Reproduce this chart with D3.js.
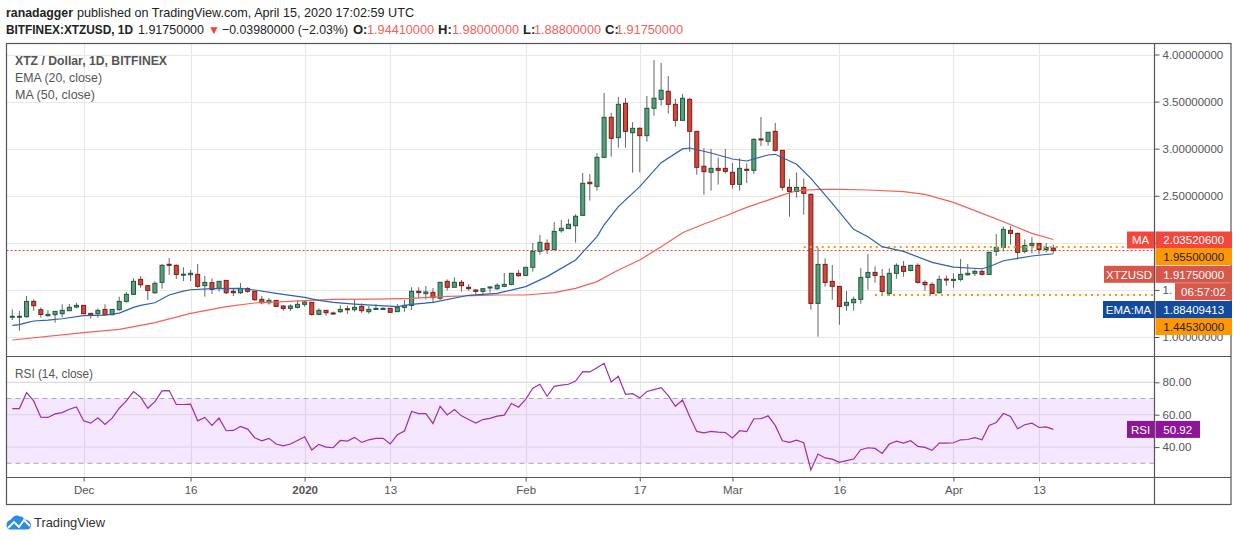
<!DOCTYPE html>
<html>
<head>
<meta charset="utf-8">
<title>XTZ / Dollar</title>
<script src="https://cdn.jsdelivr.net/npm/d3@7/dist/d3.min.js"></script>
<style>
  html, body { margin: 0; padding: 0; background: #fff; }
  svg { display: block; }
  text { font-family: "Liberation Sans", Arial, sans-serif; }
  .axis path, .axis line { stroke: #555; }
  .axis text { fill: #555; font-size: 11.5px; }
</style>
</head>
<body>
<div id="chart"></div>
<script>
// daily candles, 21 Nov 2019 -> 15 Apr 2020
const firstDay = new Date(Date.UTC(2019, 10, 21));

const opens = [1.21,1.21,1.216,1.378,1.29,1.226,1.237,1.247,1.279,1.318,
  1.336,1.251,1.247,1.293,1.237,1.29,1.378,1.453,1.612,1.545,
  1.47,1.58,1.772,1.761,1.66,1.662,1.665,1.545,1.577,1.516,
  1.601,1.485,1.47,1.516,1.485,1.4,1.364,1.389,1.329,1.304,
  1.315,1.347,1.368,1.24,1.283,1.255,1.269,1.3,1.29,1.325,
  1.269,1.293,1.293,1.304,1.269,1.315,1.336,1.485,1.46,1.474,
  1.411,1.591,1.528,1.581,1.528,1.499,1.485,1.524,1.513,1.538,
  1.559,1.676,1.655,1.74,1.91,1.995,1.928,2.129,2.151,2.182,
  2.292,2.643,2.6,2.908,3.333,3.117,3.482,3.17,3.216,3.138,
  3.429,3.524,3.609,3.471,3.301,3.524,3.184,2.813,2.749,2.791,
  2.791,2.749,2.621,2.781,2.77,3.103,3.078,3.184,2.982,2.589,
  2.546,2.589,2.515,1.357,1.771,1.591,1.538,1.336,1.364,1.4,
  1.633,1.686,1.644,1.463,1.676,1.75,1.707,1.761,1.58,1.559,
  1.47,1.615,1.601,1.612,1.661,1.676,1.697,1.665,1.909,1.952,
  2.132,2.1,1.909,1.973,1.994,1.93,1.9441];

const highs = [1.293,1.276,1.435,1.4,1.315,1.286,1.276,1.347,1.35,1.364,
  1.34,1.255,1.304,1.347,1.296,1.428,1.478,1.623,1.647,1.547,
  1.591,1.775,1.839,1.771,1.74,1.711,1.775,1.647,1.623,1.594,
  1.604,1.516,1.573,1.527,1.487,1.435,1.414,1.391,1.34,1.347,
  1.389,1.389,1.37,1.304,1.285,1.269,1.336,1.332,1.393,1.357,
  1.329,1.347,1.315,1.306,1.35,1.393,1.528,1.528,1.542,1.52,
  1.585,1.612,1.634,1.605,1.563,1.51,1.52,1.542,1.57,1.68,
  1.68,1.712,1.743,1.998,2.083,2.037,2.221,2.243,2.253,2.303,
  2.742,2.731,2.954,3.591,3.382,3.549,3.538,3.283,3.227,3.559,
  3.942,3.91,3.772,3.528,3.581,3.538,3.186,3.007,2.997,2.905,
  2.997,2.848,2.898,2.844,3.11,3.336,3.176,3.273,2.984,2.677,
  2.748,2.684,2.525,1.952,1.835,1.764,1.54,1.488,1.428,1.732,
  1.881,1.75,1.722,1.729,1.782,1.807,1.763,1.782,1.601,1.58,
  1.654,1.654,1.676,1.828,1.775,1.718,1.718,1.906,2.093,2.175,
  2.175,2.111,2.037,2.061,1.996,1.998,1.98];

const lows = [1.18,1.067,1.205,1.279,1.205,1.216,1.152,1.209,1.279,1.304,
  1.245,1.194,1.205,1.235,1.23,1.279,1.364,1.446,1.524,1.393,
  1.456,1.513,1.658,1.616,1.594,1.594,1.524,1.428,1.456,1.481,
  1.456,1.435,1.456,1.47,1.382,1.347,1.343,1.322,1.279,1.276,
  1.301,1.322,1.226,1.23,1.226,1.237,1.255,1.244,1.269,1.255,
  1.247,1.286,1.286,1.255,1.267,1.269,1.287,1.411,1.4,1.358,
  1.393,1.492,1.526,1.481,1.492,1.443,1.435,1.471,1.499,1.528,
  1.549,1.641,1.648,1.694,1.874,1.882,1.924,2.108,2.149,2.002,
  2.285,2.448,2.554,2.905,2.915,3.011,3.011,2.745,2.749,3.074,
  3.351,3.457,3.372,3.234,3.299,2.968,2.724,2.512,2.554,2.618,
  2.735,2.575,2.554,2.636,2.731,3.028,3.032,2.968,2.554,2.277,
  2.479,2.299,1.29,1.003,1.534,1.396,1.13,1.279,1.279,1.353,
  1.502,1.576,1.449,1.438,1.619,1.64,1.697,1.566,1.491,1.456,
  1.463,1.545,1.523,1.591,1.651,1.647,1.654,1.658,1.86,1.909,
  1.98,1.824,1.888,1.888,1.877,1.899,1.888];

const closes = [1.22,1.22,1.378,1.332,1.24,1.24,1.272,1.283,1.315,1.336,
  1.247,1.237,1.283,1.237,1.293,1.378,1.453,1.591,1.555,1.495,
  1.57,1.761,1.765,1.665,1.667,1.676,1.538,1.58,1.506,1.591,
  1.47,1.47,1.516,1.485,1.396,1.364,1.389,1.325,1.304,1.329,
  1.347,1.371,1.24,1.283,1.258,1.244,1.293,1.293,1.315,1.279,
  1.293,1.304,1.304,1.262,1.315,1.336,1.485,1.471,1.478,1.418,
  1.581,1.528,1.581,1.545,1.513,1.485,1.513,1.531,1.549,1.559,
  1.676,1.651,1.74,1.91,2.005,1.928,2.122,2.154,2.197,2.282,
  2.632,2.628,2.908,3.333,3.11,3.471,3.184,3.216,3.138,3.429,
  3.535,3.62,3.471,3.301,3.535,3.184,2.802,2.756,2.791,2.77,
  2.759,2.621,2.791,2.77,3.099,3.096,3.174,2.982,2.59,2.546,
  2.589,2.525,1.357,1.771,1.58,1.538,1.325,1.368,1.4,1.633,
  1.686,1.654,1.484,1.676,1.761,1.697,1.761,1.58,1.555,1.463,
  1.612,1.608,1.612,1.665,1.676,1.697,1.665,1.899,1.952,2.143,
  2.1,1.899,1.973,1.994,1.93,1.952,1.9175];

// EMA(20) at these candle numbers
const emaDays = [0,1,2,3,5,7,10,13,15,17,18,20,22,24,25,28,32,34,37,41,43,45,48,51,54,56,59,64,68,72,75,79,82,83,85,88,91,94,95,98,101,103,106,107,110,112,115,118,120,122,125,129,132,136,137,139,141,143,146];
const emaValues = [1.124,1.131,1.152,1.17,1.18,1.194,1.226,1.233,1.254,1.315,1.336,1.364,1.446,1.488,1.502,1.513,1.516,1.499,1.463,1.421,1.389,1.368,1.35,1.336,1.322,1.347,1.368,1.443,1.464,1.535,1.641,1.818,2.066,2.19,2.384,2.597,2.851,2.997,3.007,2.954,2.89,2.869,2.933,2.94,2.834,2.685,2.419,2.143,2.065,1.959,1.909,1.792,1.743,1.725,1.746,1.81,1.835,1.86,1.884];

// MA(50)
const maDays = [0,10,15,20,25,30,34,41,45,51,56,60,68,72,76,79,82,85,88,91,94,97,100,103,106,108,110,113,116,120,125,128,132,136,139,143,146];
const maValues = [0.968,1.046,1.081,1.152,1.251,1.322,1.361,1.386,1.4,1.403,1.41,1.428,1.446,1.446,1.471,1.517,1.588,1.712,1.818,1.959,2.108,2.2,2.285,2.377,2.454,2.507,2.553,2.568,2.568,2.561,2.543,2.515,2.43,2.313,2.224,2.1,2.0352];

const rsiValues = [63.8,63.8,73.6,68.5,58.5,58.3,60.5,61.3,63.4,64.8,
  56.2,54.8,58.1,54,57.9,64,68.5,74.3,70.8,64,
  68.1,74.7,74.9,66.3,66.3,66.5,56.2,58.3,53.4,57.9,
  50.1,50.3,52.7,51.1,45.8,43.9,45.4,41.9,40.8,41.9,
  44.1,46.4,38.2,41.7,40,39.6,44.1,43.7,46,42.9,
  44.5,45.4,45.4,41.9,47.6,49.9,62,60.7,60.7,54.6,
  65.2,59.9,63.2,59.3,57,54.8,57,57.7,59.1,59.7,
  66.9,64.6,69.5,76.3,78.8,71.4,77.5,78.2,78.8,80.8,
  86.6,86.4,89,91.7,80.2,83.7,72.6,73,70.4,74.3,
  75.5,76.7,71.8,65.2,69.1,58.9,49.7,48.8,49.7,49.3,
  49,45.6,50.1,49.5,57.5,57.5,59.3,53.4,43.9,42.9,
  44.3,42.7,25.9,35.7,33.3,32.6,30.6,31.6,32.6,38.4,
  39.6,39.2,36.1,41.9,43.7,42.5,43.9,40.4,39.8,38,
  42.5,42.5,42.7,44.5,44.7,45.8,44.5,53.4,55.2,60.7,
  58.9,51.3,53.8,54.8,52.1,52.5,50.92];

const priceTicks = [1, 1.5, 2, 2.5, 3, 3.5, 4];
// the tags on the right cover these two tick labels in the picture
const priceLabels = d => d === 2 ? "" : d === 1.5 ? "1." : d.toFixed(8);
const rsiTicks = [40, 60, 80];
const rsiBand = [30, 70];
const dateTicks = [[2019,11,1,"Dec"],[2019,11,16,"16"],[2020,0,1,"2020"],[2020,0,13,"13"],[2020,1,1,"Feb"],[2020,1,17,"17"],[2020,2,1,"Mar"],[2020,2,16,"16"],[2020,3,1,"Apr"],[2020,3,13,"13"]];

const lastClose = 1.9175;
const supportHigh = 1.955, supportLow = 1.4453;
const lastMa = 2.035206, lastEma = 1.88409413, lastRsi = 50.92;

const width = 1234, height = 541;
const left = 6.5, axisX = 1154.5, right = 1231;
const top1 = 43.5, paneBottom = 356.5, timeTop = 477.5, bottom = 504.5;

const svg = d3.select("#chart").append("svg").attr("width", width).attr("height", height);

const x = d3.scaleUtc()
  .domain([firstDay, d3.utcDay.offset(firstDay, 146)])
  .range([12.3, 1053.3]);
const y = d3.scaleLinear().domain([1, 4]).range([337, 54.5]);
const yRsi = d3.scaleLinear().domain([30, 80]).range([463.3, 382.3]);
const xDay = i => x(d3.utcDay.offset(firstDay, i));

const tickDates = dateTicks.map(d => new Date(Date.UTC(d[0], d[1], d[2])));
const grid = "#e8e8e8";

// grids
svg.append("g").selectAll("line").data(tickDates).join("line")
  .attr("x1", d => Math.round(x(d)) + .5).attr("x2", d => Math.round(x(d)) + .5)
  .attr("y1", top1).attr("y2", timeTop).attr("stroke", grid).attr("stroke-width", 1.2);
svg.append("g").selectAll("line").data(priceTicks).join("line")
  .attr("x1", left).attr("x2", axisX)
  .attr("y1", d => Math.round(y(d)) + .5).attr("y2", d => Math.round(y(d)) + .5)
  .attr("stroke", grid).attr("stroke-width", 1.2);

// rsi band + grid
svg.append("rect").attr("x", left).attr("width", axisX - left)
  .attr("y", yRsi(rsiBand[1])).attr("height", yRsi(rsiBand[0]) - yRsi(rsiBand[1]))
  .attr("fill", "#9915ff").attr("fill-opacity", 0.1);
svg.append("g").selectAll("line").data(rsiTicks).join("line")
  .attr("x1", left).attr("x2", axisX)
  .attr("y1", d => yRsi(d)).attr("y2", d => yRsi(d))
  .attr("stroke", "#e0d8e4").attr("stroke-width", 1.2);
svg.append("g").selectAll("line").data(rsiBand).join("line")
  .attr("x1", left).attr("x2", axisX)
  .attr("y1", d => yRsi(d)).attr("y2", d => yRsi(d))
  .attr("stroke", "#aaa").attr("stroke-dasharray", "5 4");

// last price line
svg.append("line").attr("x1", left).attr("x2", axisX)
  .attr("y1", y(lastClose)).attr("y2", y(lastClose))
  .attr("stroke", "#c8473a").attr("stroke-width", 1).attr("stroke-dasharray", "2 2");

const days = d3.range(opens.length);

// candles
const candles = svg.append("g");
candles.selectAll("line").data(days).join("line")
  .attr("x1", xDay).attr("x2", xDay)
  .attr("y1", i => y(highs[i])).attr("y2", i => y(lows[i]))
  .attr("stroke", "#666").attr("stroke-width", 1);
candles.selectAll("rect").data(days).join("rect")
  .attr("x", i => xDay(i) - 2)
  .attr("width", 4)
  .attr("y", i => y(Math.max(opens[i], closes[i])))
  .attr("height", i => Math.max(1, Math.abs(y(opens[i]) - y(closes[i]))))
  .attr("fill", i => closes[i] >= opens[i] ? "#5a9e7c" : "#d4463a")
  .attr("stroke", i => closes[i] >= opens[i] ? "#1c5a3c" : "#7c1c14")
  .attr("stroke-width", 1);

// orange support lines go over the candles
[[supportHigh, 111.5], [supportLow, 121.3]].forEach(([lvl, startDay]) => {
  svg.append("line").attr("x1", xDay(startDay)).attr("x2", axisX)
    .attr("y1", y(lvl)).attr("y2", y(lvl))
    .attr("stroke", "#ff9800").attr("stroke-width", 2).attr("stroke-dasharray", "2 4");
});

// averages
const line = d3.line().x(d => xDay(d[0])).y(d => y(d[1]));
svg.append("path").attr("d", line(maDays.map((d, i) => [d, maValues[i]])))
  .attr("fill", "none").attr("stroke", "#f4605a").attr("stroke-width", 1.2);
svg.append("path").attr("d", line(emaDays.map((d, i) => [d, emaValues[i]])))
  .attr("fill", "none").attr("stroke", "#2a62b4").attr("stroke-width", 1.2);

// rsi line
svg.append("path")
  .attr("d", d3.line().x((d, i) => xDay(i)).y(d => yRsi(d))(rsiValues))
  .attr("fill", "none").attr("stroke", "#a02db0").attr("stroke-width", 1.2);

// axes
svg.append("g").attr("class", "axis")
  .attr("transform", `translate(${axisX},0)`)
  .call(d3.axisRight(y).tickValues(priceTicks).tickSize(5).tickPadding(3).tickFormat(priceLabels))
  .call(g => g.select(".domain").remove());
svg.append("g").attr("class", "axis")
  .attr("transform", `translate(${axisX},0)`)
  .call(d3.axisRight(yRsi).tickValues(rsiTicks).tickSize(5).tickPadding(3).tickFormat(d => d.toFixed(2)))
  .call(g => g.select(".domain").remove());
svg.append("g").attr("class", "axis")
  .attr("transform", `translate(0,${timeTop})`)
  .call(d3.axisBottom(x).tickValues(tickDates).tickSize(4).tickPadding(4)
    .tickFormat((d, i) => dateTicks[i][3]))
  .call(g => g.select(".domain").remove())
  .call(g => g.selectAll("text").attr("font-weight", (d, i) => i === 2 ? "bold" : null));

// frame
const frame = svg.append("g").attr("stroke", "#555").attr("stroke-width", 1.2).attr("fill", "none");
frame.append("rect").attr("x", left).attr("y", top1).attr("width", right - left).attr("height", bottom - top1);
[[left, right, paneBottom, paneBottom], [left, right, timeTop, timeTop], [axisX, axisX, top1, bottom]]
  .forEach(s => frame.append("line").attr("x1", s[0]).attr("x2", s[1]).attr("y1", s[2]).attr("y2", s[3]));

// price tags
function tag(x0, x1, yMid, h, fill, label, color) {
  svg.append("rect").attr("x", x0).attr("width", x1 - x0).attr("y", yMid - h / 2).attr("height", h).attr("fill", fill);
  svg.append("text").attr("x", (x0 + x1) / 2).attr("y", yMid + 4.2).attr("text-anchor", "middle")
    .attr("font-size", 11.5).attr("fill", color).text(label);
}
const tags = [
  [240, "#f6463c", "MA", lastMa.toFixed(8), "#fff", 1127],
  [256.6, "#ff9800", null, supportHigh.toFixed(8), "#222", 0],
  [274.3, "#d8574a", "XTZUSD", lastClose.toFixed(8), "#fff", 1104],
  [309.5, "#124a9e", "EMA:MA", lastEma.toFixed(8), "#fff", 1103],
  [326.5, "#ff9800", null, supportLow.toFixed(8), "#222", 0]
];
tags.forEach(t => {
  tag(axisX + 1, 1232, t[0], 17, t[1], t[3], t[4]);
  if (t[2]) tag(t[5], axisX - .5, t[0], 17, t[1], t[2], t[4]);
});
tag(1175, 1232, 291.6, 17, "#d8574a", "06:57:02", "#fff");
tag(1127, axisX - .5, yRsi(lastRsi), 17, "#8e1599", "RSI", "#fff");
tag(axisX + 1, 1200, yRsi(lastRsi), 17, "#8e1599", lastRsi.toFixed(2), "#fff");

// header
function txt(x0, y0, s, o = {}) {
  const t = svg.append("text").attr("x", x0).attr("y", y0).attr("font-size", o.size || 13)
    .attr("font-weight", o.bold ? "bold" : null).attr("fill", o.fill || "#222").text(s);
  if (o.len) t.attr("textLength", o.len).attr("lengthAdjust", "spacingAndGlyphs");
  return t;
}
const up = "#f4605a";
txt(6, 17, "ranadagger", { bold: true, len: 67 });
txt(77, 17, "published on TradingView.com, April 15, 2020 17:02:59 UTC", { len: 337 });
txt(6, 34, "BITFINEX:XTZUSD, 1D", { bold: true, len: 127 });
txt(138, 34, "1.91750000", { len: 66 });
txt(208, 34, "▼", { fill: "#f44336", size: 12 });
txt(222, 34, "−0.03980000 (−2.03%)", { len: 126 });
[[353, "O:", 367, "1.94410000"], [438, "H:", 452, "1.98000000"], [523, "L:", 534, "1.88800000"], [605, "C:", 616, "1.91750000"]]
  .forEach(d => {
    txt(d[0], 34, d[1], { bold: true });
    txt(d[2], 34, d[3], { fill: up, len: 67 });
  });

// pane legends
txt(15, 65, "XTZ / Dollar, 1D, BITFINEX", { bold: true, fill: "#555", len: 152 });
txt(15, 82, "EMA (20, close)", { fill: "#555", len: 87 });
txt(15, 99, "MA (50, close)", { fill: "#555", len: 80 });
txt(15, 378, "RSI (14, close)", { fill: "#555", len: 78 });

// logo
svg.append("path")
  .attr("d", "M6.5 525 C6.5 522 9 520 11 519.5 C12.5 516 17 514 20 516.5 C22 516 24 518 24.5 519.5 C28 519.5 31 522 31 525 C31 528 29 529.5 27 529.5 L10 529.5 C8 529.5 6.5 527.5 6.5 525 Z")
  .attr("fill", "#2a8de0");
svg.append("path").attr("d", "M8 528 L14 522 L19 527 L24 520 L30 526")
  .attr("fill", "none").attr("stroke", "#fff").attr("stroke-width", 1.8);
txt(34, 527, "TradingView", { fill: "#333", len: 71 });
</script>
</body>
</html>
